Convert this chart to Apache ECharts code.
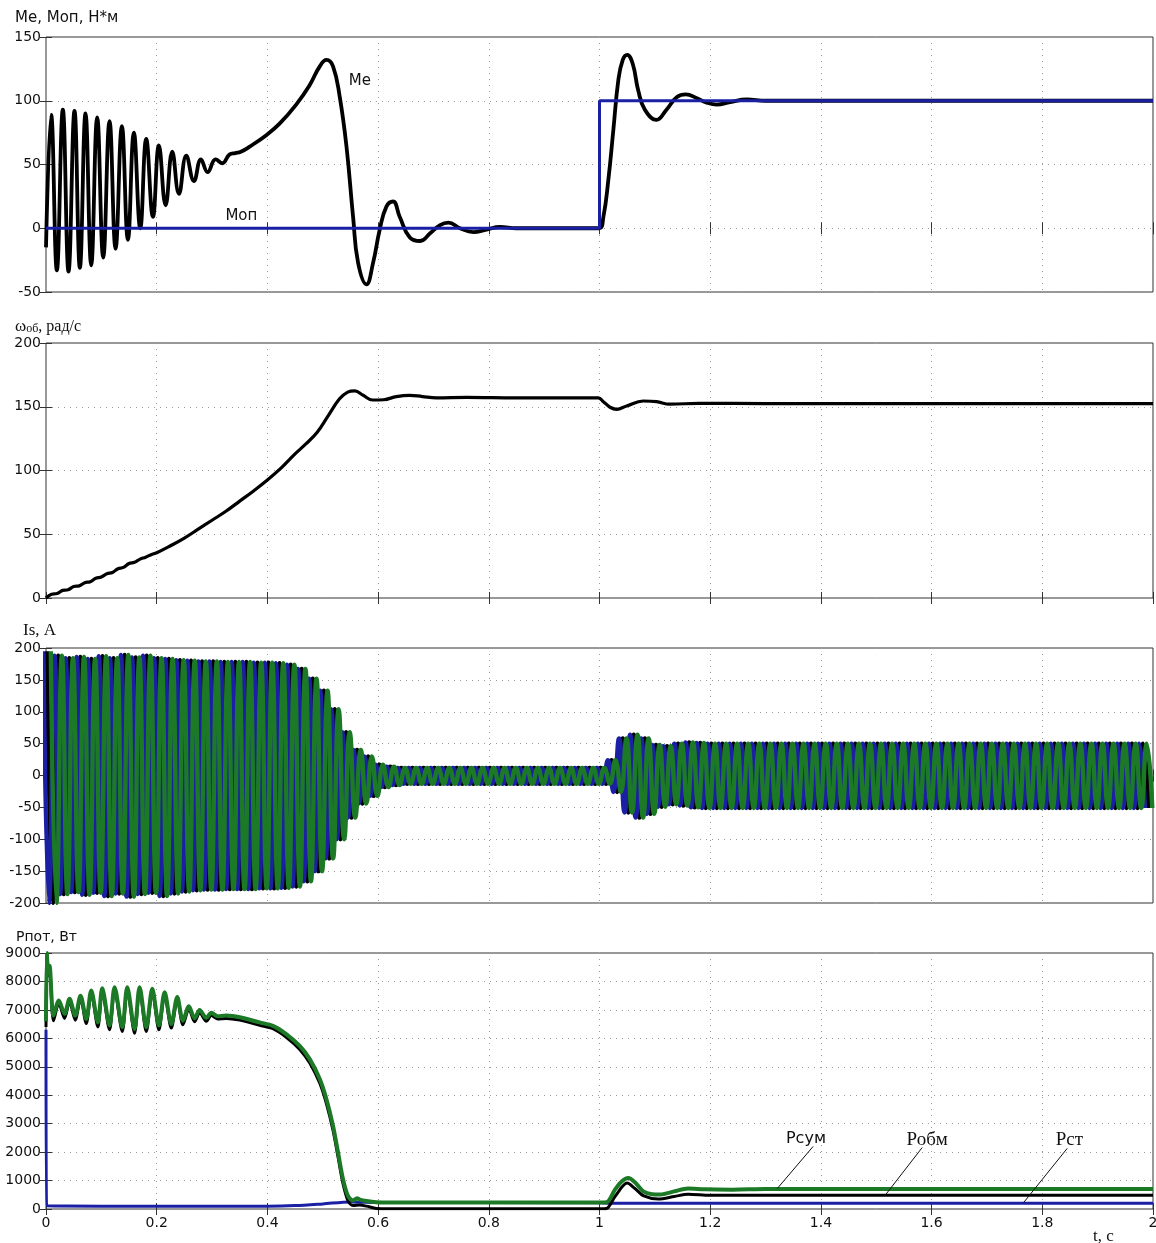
<!DOCTYPE html>
<html>
<head>
<meta charset="utf-8">
<script src="https://cdn.jsdelivr.net/npm/echarts@6/dist/echarts.min.js"></script>
<style>
  html, body { margin: 0; padding: 0; background: #fff; }
  #main { width: 1156px; height: 1243px; }
</style>
</head>
<body>
<div id="main"></div>
<script>
// --- data ---
// electromagnetic torque Me and load torque Mоп, [t, N*m]
var meData = [[0,-15],[0.0093,89],[0.0196,-33],[0.0304,93],[0.0407,-34],[0.0515,92],[0.0612,-31],[0.0714,90],[0.0817,-29],[0.0925,87],[0.1034,-23],[0.1148,84],[0.1257,-16],[0.1371,80],[0.148,-9],[0.1588,75],[0.1703,0],[0.1811,70],[0.1932,9],[0.204,65],[0.2161,18],[0.2281,60],[0.2402,27],[0.2535,57],[0.2673,37],[0.28,54],[0.292,44],[0.3065,54],[0.3185,51],[0.3318,58],[0.342,59],[0.352,60],[0.368,64],[0.398,73],[0.422,82],[0.452,97],[0.476,112],[0.4946,127],[0.5067,132],[0.5186,127],[0.5307,103],[0.5429,64],[0.5548,9],[0.5638,-27],[0.579,-44],[0.591,-27],[0.603,-1],[0.615,17],[0.627,21],[0.639,9],[0.657,-7],[0.676,-10],[0.694,-4],[0.712,2.5],[0.727,4.4],[0.748,0],[0.772,-3],[0.796,-1],[0.82,1],[0.85,0],[0.999,0],[1.007,9],[1.016,38],[1.025,77],[1.034,116],[1.042,132],[1.05,136],[1.06,129],[1.07,108],[1.082,93],[1.103,85],[1.121,93],[1.14,103],[1.156,105],[1.176,102],[1.194,98.5],[1.212,97],[1.236,99],[1.266,101],[1.3,100],[2,100]];
var mopData = [[0,0],[1,0],[1,100],[2,100]];

// rotor speed, [t, rad/s]
var omegaData = [[0,0],[0.01,3],[0.02,3.5],[0.03,6],[0.04,6.5],[0.05,9],[0.06,9.5],[0.07,12],[0.08,12.8],[0.09,15.5],[0.1,16.5],[0.11,19],[0.12,20],[0.13,23],[0.14,24],[0.15,27],[0.16,28],[0.17,30.5],[0.18,32],[0.19,34],[0.2,35.5],[0.225,41],[0.25,47],[0.275,54],[0.3,61],[0.325,68],[0.35,76],[0.375,84],[0.4,92.5],[0.425,102],[0.45,113],[0.47,121],[0.49,130],[0.51,143],[0.53,156],[0.545,161.5],[0.558,162.5],[0.573,159],[0.59,155.3],[0.61,155.5],[0.633,158],[0.657,159],[0.68,158],[0.705,157],[0.76,157.4],[0.85,157],[0.998,157],[1.007,154],[1.019,149.6],[1.031,148],[1.049,150.6],[1.079,154.5],[1.103,154],[1.127,152],[1.18,152.7],[1.3,152.5],[2,152.5]];

// stator current: upper and lower peak of every 50 Hz cycle, A
var isPeriod = 0.02;
var isUpper = [195,188,184,186,183,187,184,189,185,188,184,183,181,180,179,179,178,178,178,177,177,176,174,167,152,133,104,68,40,30,17,14,
  12,12,12,12,12,12,12,12,12,12,12,12,12,12,12,12,12,12,12,
  24,58,64,58,48,46,50,52,51,
  50,50,50,50,50,50,50,50,50,50,50,50,50,50,50,50,50,50,50,50,50,50,50,50,50,50,50,50,50,50,50,50,50,50,50,50,50,50,50,50];
var isLower = [-200,-186,-183,-187,-184,-189,-185,-190,-186,-184,-189,-185,-182,-180,-179,-179,-178,-178,-178,-177,-177,-176,-174,-166,-150,-130,-100,-66,-44,-32,-18,-15,
  -13,-13,-13,-13,-13,-13,-13,-13,-13,-13,-13,-13,-13,-13,-13,-13,-13,-13,-13,
  -26,-58,-66,-60,-49,-45,-47,-50,-51,
  -51,-51,-51,-51,-51,-51,-51,-51,-51,-51,-51,-51,-51,-51,-51,-51,-51,-51,-51,-51,-51,-51,-51,-51,-51,-51,-51,-51,-51,-51,-51,-51,-51,-51,-51,-51,-51,-51,-51,-51];

// losses, [t, W]
var pSum = [[0,6600],[0.0015,9000],[0.004,8300],[0.0063,8550],[0.0136,6800],[0.0232,7330],[0.0335,6860],[0.0425,7390],[0.0528,6800],[0.0624,7500],[0.0727,6680],[0.0817,7680],[0.0937,6560],[0.1016,7760],[0.1148,6450],[0.1239,7800],[0.1378,6390],[0.1468,7800],[0.16,6330],[0.1691,7800],[0.1812,6390],[0.192,7740],[0.204,6450],[0.2143,7620],[0.2264,6500],[0.2372,7450],[0.2474,6620],[0.2582,7130],[0.2685,6700],[0.2776,7000],[0.2897,6720],[0.2987,6900],[0.31,6780],[0.3258,6800],[0.35,6740],[0.386,6560],[0.41,6440],[0.434,6150],[0.458,5740],[0.4765,5270],[0.4946,4570],[0.5067,3860],[0.5186,2920],[0.5277,1980],[0.5367,1040],[0.5458,450],[0.5548,300],[0.562,380],[0.567,330],[0.579,280],[0.597,240],[0.62,230],[1.0,230],[1.013,240],[1.028,680],[1.04,970],[1.052,1090],[1.064,940],[1.079,620],[1.095,520],[1.11,510],[1.135,620],[1.16,720],[1.19,690],[1.24,680],[1.3,700],[2,700]];
var pObm = [[0,6400],[0.0015,8900],[0.004,8200],[0.0063,8450],[0.0136,6620],[0.0232,7230],[0.0335,6700],[0.0425,7290],[0.0528,6640],[0.0624,7400],[0.0727,6520],[0.0817,7580],[0.0937,6400],[0.1016,7660],[0.1148,6300],[0.1239,7700],[0.1378,6240],[0.1468,7700],[0.16,6180],[0.1691,7700],[0.1812,6240],[0.192,7640],[0.204,6300],[0.2143,7520],[0.2264,6360],[0.2372,7350],[0.2474,6480],[0.2582,7030],[0.2685,6580],[0.2776,6900],[0.2897,6600],[0.2987,6800],[0.31,6680],[0.3258,6700],[0.35,6640],[0.386,6460],[0.41,6340],[0.434,6040],[0.458,5620],[0.4765,5130],[0.4946,4420],[0.5067,3700],[0.5186,2760],[0.5277,1820],[0.5367,880],[0.5458,280],[0.5548,120],[0.567,140],[0.579,100],[0.597,20],[0.62,10],[1.0,10],[1.013,20],[1.028,440],[1.05,910],[1.064,720],[1.08,460],[1.106,350],[1.135,440],[1.16,520],[1.2,480],[1.3,480],[2,480]];
var pSt = [[0,6300],[0.002,110],[0.1,100],[0.4,100],[0.45,120],[0.5,180],[0.55,250],[0.6,230],[1.0,220],[1.02,205],[2,200]];

var yRanges = [[-50, 150, 50], [0, 200, 50], [-200, 200, 50], [0, 9000, 1000]];

var BLUE = '#1b1fa4';
var GREEN = '#1c7a26';
var SANS = 'DejaVu Sans';
var SERIF = 'Liberation Serif';

// one 50 Hz phase built from the cycle peaks above
function phase(off) {
    var pts = [];
    for (var k = 0; k < isUpper.length; k++) {
        var tp = k * isPeriod + off;
        var tn = tp + isPeriod / 2;
        if (tp >= -0.012 && tp <= 2.012) pts.push([tp, isUpper[k]]);
        if (tn >= -0.012 && tn <= 2.012) pts.push([tn, isLower[k]]);
    }
    return pts;
}

var grids = [
    { left: 46, right: 3, top: 37, height: 255 },
    { left: 46, right: 3, top: 343, height: 255 },
    { left: 46, right: 3, top: 648, height: 255 },
    { left: 46, right: 3, top: 953, height: 256 }
];
grids.forEach(function (g) {
    g.show = true; g.borderColor = '#333'; g.borderWidth = 1;
    g.outerBoundsMode = 'none'; g.containLabel = false;
});

var dotted = { show: true, lineStyle: { color: '#9a9a9a', type: [1, 5], width: 1 } };
var xAxes = [], yAxes = [];
for (var i = 0; i < 4; i++) {
    xAxes.push({
        type: 'value', gridIndex: i, min: 0, max: 2, interval: 0.2,
        axisLine: { show: false },
        axisTick: { inside: true, length: 6, lineStyle: { color: '#333' } },
        axisLabel: { show: i === 3, color: '#111', fontFamily: SANS, fontSize: 14, margin: 7 },
        splitLine: dotted
    });
    xAxes.push({
        type: 'value', gridIndex: i, min: 0, max: 2, interval: 0.2, position: 'top',
        axisLine: { show: false },
        axisTick: { inside: true, length: 6, lineStyle: { color: '#333' } },
        axisLabel: { show: false }, splitLine: { show: false }
    });
    var r = yRanges[i];
    yAxes.push({
        type: 'value', gridIndex: i, min: r[0], max: r[1], interval: r[2],
        axisLine: { show: false },
        axisTick: { inside: true, length: 6, lineStyle: { color: '#333' } },
        axisLabel: { color: '#111', fontFamily: SANS, fontSize: 14, margin: 5,
            formatter: function (v) { return String(v); } },
        splitLine: dotted
    });
    yAxes.push({
        type: 'value', gridIndex: i, min: r[0], max: r[1], interval: r[2], position: 'right',
        axisLine: { show: false },
        axisTick: { inside: true, length: 6, lineStyle: { color: '#333' } },
        axisLabel: { show: false }, splitLine: { show: false }
    });
}

function line(name, data, gi, color, width, smooth, extra) {
    var s = {
        name: name, type: 'line', xAxisIndex: gi * 2, yAxisIndex: gi * 2,
        data: data, showSymbol: false, symbol: 'none', smooth: smooth,
        clip: true, lineStyle: { color: color, width: width }, silent: true
    };
    for (var k in extra || {}) s[k] = extra[k];
    return s;
}

function textPoint(name, coord, font, size) {
    return { name: name, coord: coord, symbolSize: 0,
        label: { show: true, position: 'inside', formatter: '{b}', color: '#111', fontFamily: font, fontSize: size } };
}

var lead = { symbol: ['none', 'none'], silent: true, label: { show: false },
    lineStyle: { color: '#111', width: 1, type: 'solid' } };

var series = [
    line('Ме', meData, 0, '#000', 3.8, 0.45, {
        markPoint: { symbol: 'circle', data: [textPoint('Ме', [0.567, 115.5], SANS, 15)] }
    }),
    line('Моп', mopData, 0, BLUE, 3, false, {
        markPoint: { symbol: 'circle', data: [textPoint('Моп', [0.353, 9.5], SANS, 15)] }
    }),
    line('ωоб', omegaData, 1, '#000', 3.2, 0.4),
    line('ia', phase(0.002), 2, '#000', 4.4, 0.5),
    line('ib', phase(-0.0047), 2, BLUE, 4.4, 0.5),
    line('ic', phase(0.0087), 2, GREEN, 4.4, 0.5),
    line('Рст', pSt, 3, BLUE, 3, 0.3, {
        markLine: Object.assign({ data: [[{ coord: [1.845, 2130] }, { coord: [1.766, 220] }]] }, lead),
        markPoint: { symbol: 'circle', data: [textPoint('Рст', [1.849, 2420], SERIF, 19)] }
    }),
    line('Робм', pObm, 3, '#000', 3, 0.3, {
        markLine: Object.assign({ data: [[{ coord: [1.583, 2160] }, { coord: [1.516, 480] }]] }, lead),
        markPoint: { symbol: 'circle', data: [textPoint('Робм', [1.592, 2420], SERIF, 19)] }
    }),
    line('Рсум', pSum, 3, GREEN, 4, 0.3, {
        markLine: Object.assign({ data: [[{ coord: [1.386, 2200] }, { coord: [1.321, 716] }]] }, lead),
        markPoint: { symbol: 'circle', data: [textPoint('Рсум', [1.373, 2480], SANS, 16)] }
    })
];

var ts = { fontWeight: 'normal', color: '#111' };
var titles = [
    { text: 'Ме, Моп, Н*м', left: 15, top: 11, padding: 0, textStyle: Object.assign({ fontFamily: SANS, fontSize: 15 }, ts) },
    { text: '{w|ω}{s|об}{n|, рад/с}', left: 15, top: 318, padding: 0, textStyle: Object.assign({
        rich: { w: { fontFamily: SERIF, fontSize: 17, color: '#111' },
                s: { fontFamily: SERIF, fontSize: 12, color: '#111', verticalAlign: 'bottom' },
                n: { fontFamily: SERIF, fontSize: 16, color: '#111' } } }, ts) },
    { text: 'Is, A', left: 23, top: 622, padding: 0, textStyle: Object.assign({ fontFamily: SERIF, fontSize: 17 }, ts) },
    { text: 'Рпот, Вт', left: 16, top: 930, padding: 0, textStyle: Object.assign({ fontFamily: SANS, fontSize: 14 }, ts) },
    { text: 't, c', left: 1093, top: 1228, padding: 0, textStyle: Object.assign({ fontFamily: SERIF, fontSize: 17 }, ts) }
];

var myChart = echarts.init(document.getElementById('main'), null, { renderer: 'canvas' });
myChart.setOption({
    animation: false,
    backgroundColor: '#fff',
    title: titles,
    grid: grids,
    xAxis: xAxes,
    yAxis: yAxes,
    series: series
});
</script>
</body>
</html>
